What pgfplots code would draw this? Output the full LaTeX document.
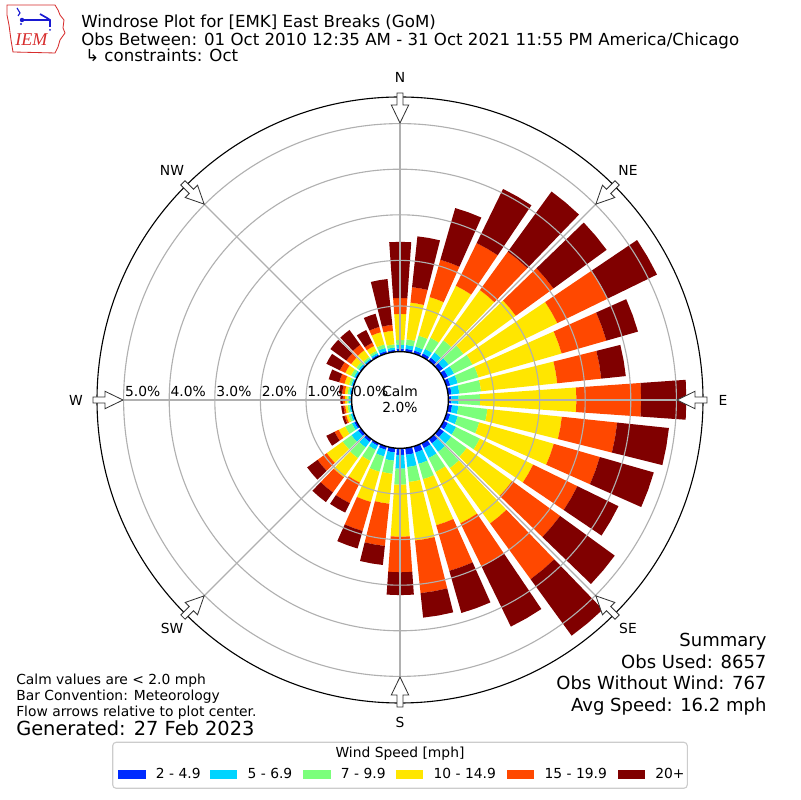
\documentclass[border=0pt]{standalone}
\usepackage{fontspec}
\setmainfont{DejaVu Sans}
\newfontfamily\logofont{Liberation Serif}
\usepackage{pgfplots}
\pgfplotsset{compat=1.18}
\usepackage{pgfplotstable}
\definecolor{c1}{RGB}{0,43,255}
\definecolor{c2}{RGB}{0,212,255}
\definecolor{c3}{RGB}{123,255,123}
\definecolor{c4}{RGB}{255,230,0}
\definecolor{c5}{RGB}{255,72,0}
\definecolor{c6}{RGB}{128,0,0}
\definecolor{gridc}{HTML}{B0B0B0}
\definecolor{legedge}{HTML}{CCCCCC}
\definecolor{iemred}{RGB}{215,45,45}
\definecolor{iemblue}{RGB}{25,25,210}

% cumulative frequency (%) at the top of each speed class, per direction
\pgfplotstableread{
dir b1 b2 b3 b4 b5 b6
0   0.06 0.145 0.25 0.82 1.17 2.40
10  0.06 0.145 0.27 1.08 1.42 2.54
20  0.06 0.15 0.40 1.28 2.13 3.31
30  0.07 0.18 0.45 1.72 2.76 4.08
40  0.08 0.22 0.55 1.91 2.95 4.58
50  0.10 0.25 0.65 2.07 3.09 4.53
60  0.10 0.25 0.70 2.77 4.00 5.20
70  0.08 0.25 0.72 2.62 3.64 4.36
80  0.07 0.24 0.72 2.40 3.37 3.91
90  0.06 0.22 0.69 2.80 4.22 5.21
100 0.08 0.22 0.86 2.50 3.72 4.86
110 0.08 0.25 0.74 2.44 3.49 4.72
120 0.10 0.30 0.88 2.18 3.26 4.26
130 0.12 0.32 0.74 1.97 3.27 4.75
140 0.12 0.35 0.79 2.29 3.80 5.33
150 0.12 0.36 0.70 1.95 3.01 4.47
160 0.14 0.40 0.75 1.80 2.84 3.80
170 0.15 0.42 0.75 2.04 3.20 3.74
180 0.15 0.45 0.80 1.94 2.72 3.22
190 0.10 0.28 0.57 1.23 2.16 2.58
200 0.08 0.23 0.58 1.27 1.93 2.33
210 0.06 0.16 0.43 0.96 1.46 1.69
220 0.08 0.23 0.52 1.04 1.45 1.71
230 0.08 0.26 0.50 0.93 1.18 1.46
240 0.06 0.12 0.28 0.44 0.54 0.74
250 0.03 0.07 0.12 0.17 0.21 0.26
260 0.03 0.06 0.10 0.15 0.19 0.24
270 0.03 0.06 0.10 0.15 0.20 0.25
280 0.03 0.06 0.10 0.16 0.22 0.29
290 0.03 0.06 0.11 0.21 0.33 0.57
300 0.03 0.07 0.14 0.28 0.41 0.74
310 0.03 0.07 0.13 0.27 0.40 0.83
320 0.03 0.06 0.10 0.28 0.43 0.83
330 0.04 0.08 0.13 0.25 0.33 0.64
340 0.05 0.12 0.20 0.48 0.60 0.90
350 0.04 0.09 0.16 0.46 0.59 1.60
}\windtable

\def\rzero{1.0614}% radius of the calm circle in % units
\newcommand\seg[1]{%
  \pgfplotstablegetelem{\i}{b#1}\of\windtable
  \pgfmathsetmacro{\rhi}{\rzero+\pgfplotsretval}%
  \pgfmathsetmacro{\xa}{\rlo*\cL}\pgfmathsetmacro{\ya}{\rlo*\sL}%
  \pgfmathsetmacro{\xb}{\rlo*\cM}\pgfmathsetmacro{\yb}{\rlo*\sM}%
  \pgfmathsetmacro{\xc}{\rlo*\cR}\pgfmathsetmacro{\yc}{\rlo*\sR}%
  \pgfmathsetmacro{\xd}{\rhi*\cR}\pgfmathsetmacro{\yd}{\rhi*\sR}%
  \pgfmathsetmacro{\xe}{\rhi*\cM}\pgfmathsetmacro{\ye}{\rhi*\sM}%
  \pgfmathsetmacro{\xf}{\rhi*\cL}\pgfmathsetmacro{\yf}{\rhi*\sL}%
  \edef\doplot{\noexpand\addplot[draw=none,fill=c#1,forget plot]
    coordinates {(\xa,\ya) (\xb,\yb) (\xc,\yc) (\xd,\yd) (\xe,\ye) (\xf,\yf)};}%
  \doplot
  \let\rlo=\rhi
}

\begin{document}
\begin{tikzpicture}
\begin{scope}[x=0.01in,y=0.01in]
\fill[white] (0,0) rectangle (800,800);
\path[use as bounding box] (0,0) rectangle (800,800);
\end{scope}

\begin{axis}[at={(0.808in,0.808in)}, anchor=south west,
  width=6.384in, height=6.384in, scale only axis, hide axis,
  disabledatascaling,
  xmin=-7, xmax=7, ymin=-7, ymax=7, clip=false]
\pgfplotstablegetrowsof{\windtable}
\pgfmathtruncatemacro{\lastrow}{\pgfplotsretval-1}
\pgfplotsforeachungrouped \i in {0,...,\lastrow}{%
  \pgfplotstablegetelem{\i}{dir}\of\windtable
  \pgfmathsetmacro{\aM}{90-\pgfplotsretval}%
  \pgfmathsetmacro{\aL}{\aM-4}%
  \pgfmathsetmacro{\aR}{\aM+4}%
  \pgfmathsetmacro{\cL}{cos(\aL)}\pgfmathsetmacro{\sL}{sin(\aL)}%
  \pgfmathsetmacro{\cM}{cos(\aM)}\pgfmathsetmacro{\sM}{sin(\aM)}%
  \pgfmathsetmacro{\cR}{cos(\aR)}\pgfmathsetmacro{\sR}{sin(\aR)}%
  \let\rlo=\rzero
  \seg1\seg2\seg3\seg4\seg5\seg6
}
\end{axis}

\begin{scope}[x=0.01in,y=0.01in]
% grid rings and spokes
\begin{scope}[shift={(400,400)}]
\foreach \r in {94,139.6,185.2,230.8,276.4}
  \draw[gridc, line width=0.8pt] (0,0) circle[radius=\r];
\foreach \a in {0,45,...,315}
  \draw[gridc, line width=0.8pt] (\a:48.4) -- (\a:303);
\draw[black, line width=0.8pt] (0,0) circle[radius=303];
\draw[black, fill=white, line width=1pt] (0,0) circle[radius=48.4];
% flow arrows
\foreach \a in {0,45,...,315}
  \draw[fill=white, draw=black!80, line width=0.6pt, rotate=\a]
    (277,0) -- (295,8.7) -- (295,3) -- (307,3) -- (307,-3) -- (295,-3) -- (295,-8.7) -- cycle;
\end{scope}

% radial labels
\begin{scope}[font=\fontsize{10}{12}\selectfont]
\node[anchor=base west, inner sep=0] at (352.8,403) {0.0\%};
\node[anchor=base west, inner sep=0] at (307.2,403) {1.0\%};
\node[anchor=base west, inner sep=0] at (261.6,403) {2.0\%};
\node[anchor=base west, inner sep=0] at (216.0,403) {3.0\%};
\node[anchor=base west, inner sep=0] at (170.4,403) {4.0\%};
\node[anchor=base west, inner sep=0] at (124.8,403) {5.0\%};
\node[anchor=base, inner sep=0] at (400,403.3) {Calm};
\node[anchor=base, inner sep=0] at (400,387.3) {2.0\%};
% compass labels
\node at (400,723) {N};
\node at (628,630) {NE};
\node at (723,400) {E};
\node at (628,172) {SE};
\node at (400,78) {S};
\node at (172,172) {SW};
\node at (76,400) {W};
\node at (172,630) {NW};
\end{scope}

% title
\begin{scope}[font=\fontsize{12}{14}\selectfont]
\node[anchor=base west, inner sep=0] at (81,772.7) {Windrose Plot for [EMK] East Breaks (GoM)};
\node[anchor=base west, inner sep=0] at (81,754.3) {Obs Between: 01 Oct 2010 12:35 AM - 31 Oct 2021 11:55 PM America/Chicago};
\node[anchor=base west, inner sep=0] at (85,738.5) {↳ constraints: Oct};
\end{scope}

% logo
\draw[iemred, line width=0.6pt] (7,795) -- (55,795) -- (58,790) -- (60,785) -- (64,780) -- (63,772) -- (65,767) -- (60,760) -- (58,753) -- (55,747) -- (13,748) -- (11,760) -- (9,775) -- (7,785) -- cycle;
\draw[iemblue, line width=1.2pt] (22,780) -- (50,780);
\draw[iemblue, line width=1.2pt] (40,786) -- (47,782) -- (50,780) -- (50,773);
\fill[iemblue] (22,780) circle[radius=2.2];
\draw[iemblue, line width=0.8pt] (17,792) -- (20,787) -- (18,784);
\fill[iemblue] (21,776) circle[radius=1.2];
\fill[iemblue] (50,770) circle[radius=1.0];
\node[anchor=base west, inner sep=0, text=iemred, font=\logofont\itshape\fontsize{13}{14}\selectfont] at (15,754) {IEM};

% bottom-left notes
\begin{scope}[font=\fontsize{10}{12}\selectfont]
\node[anchor=base west, inner sep=0] at (16,115) {Calm values are < 2.0 mph};
\node[anchor=base west, inner sep=0] at (16,99) {Bar Convention: Meteorology};
\node[anchor=base west, inner sep=0] at (16,83.3) {Flow arrows relative to plot center.};
\end{scope}
\node[anchor=base west, inner sep=0, font=\fontsize{14}{16}\selectfont] at (16,64.3) {Generated: 27 Feb 2023};

% summary
\begin{scope}[font=\fontsize{13}{15}\selectfont]
\node[anchor=base east, inner sep=0] at (766.7,153.3) {Summary};
\node[anchor=base east, inner sep=0] at (766.7,131.7) {Obs Used: 8657};
\node[anchor=base east, inner sep=0] at (766.7,110) {Obs Without Wind: 767};
\node[anchor=base east, inner sep=0] at (766.7,88.3) {Avg Speed: 16.2 mph};
\end{scope}

% legend
\draw[legedge, fill=white, line width=0.8pt, rounded corners=2.5] (112.7,11.7) rectangle (687.3,57.7);
\begin{scope}[font=\fontsize{10}{12}\selectfont]
\node[anchor=base, inner sep=0] at (400,42.3) {Wind Speed [mph]};
\fill[c1] (118.3,21.3) rectangle ++(27.4,8.7);
\node[anchor=base west, inner sep=0] at (155.7,21.3) {2 - 4.9};
\fill[c2] (210.0,21.3) rectangle ++(27.4,8.7);
\node[anchor=base west, inner sep=0] at (247.4,21.3) {5 - 6.9};
\fill[c3] (303.3,21.3) rectangle ++(27.4,8.7);
\node[anchor=base west, inner sep=0] at (340.7,21.3) {7 - 9.9};
\fill[c4] (396.0,21.3) rectangle ++(27.4,8.7);
\node[anchor=base west, inner sep=0] at (433.4,21.3) {10 - 14.9};
\fill[c5] (507.0,21.3) rectangle ++(27.4,8.7);
\node[anchor=base west, inner sep=0] at (544.4,21.3) {15 - 19.9};
\fill[c6] (617.6,21.3) rectangle ++(27.4,8.7);
\node[anchor=base west, inner sep=0] at (655.0,21.3) {20+};
\end{scope}
\end{scope}
\end{tikzpicture}
\end{document}
